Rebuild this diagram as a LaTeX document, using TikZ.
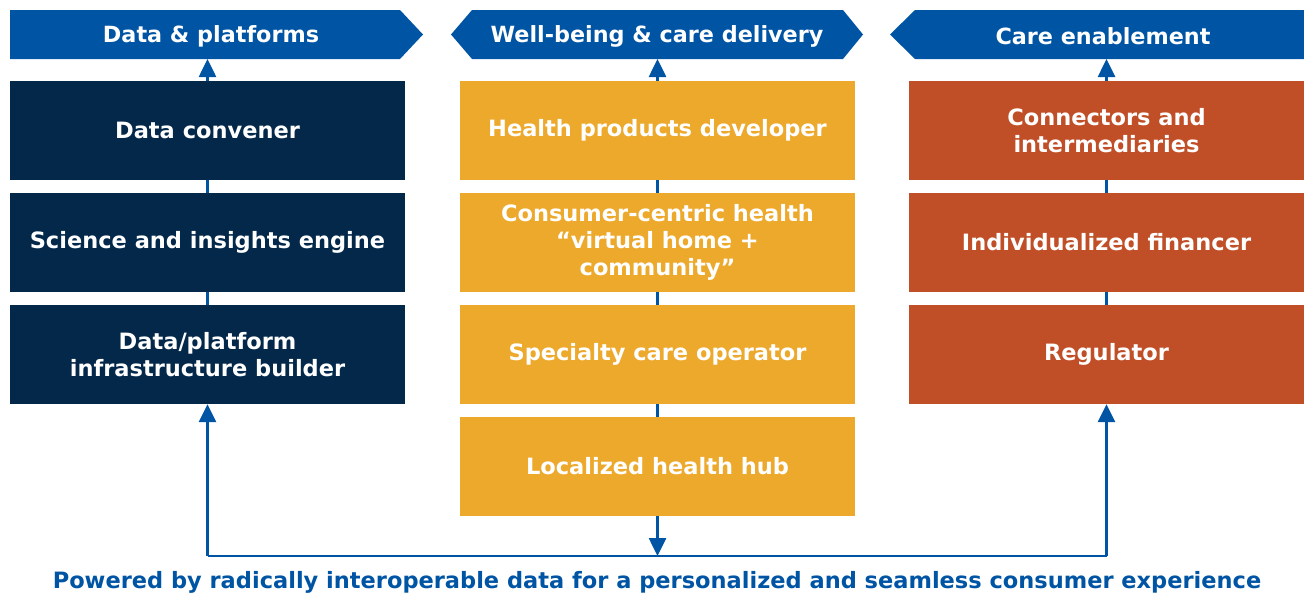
\documentclass[tikz,border=0pt]{standalone}
\usepackage{fontspec}
\setmainfont{DejaVu Sans}
\usetikzlibrary{arrows.meta,backgrounds}
\definecolor{bannerblue}{RGB}{0,84,164}
\definecolor{navy}{RGB}{3,40,74}
\definecolor{gold}{RGB}{237,169,44}
\definecolor{rust}{RGB}{192,79,40}
\tikzset{
  boxbase/.style={minimum width=395pt, minimum height=99pt, inner sep=0pt, align=center,
    text=white, font=\fontsize{22.5}{27}\selectfont\bfseries},
  navybox/.style={boxbase, fill=navy},
  goldbox/.style={boxbase, fill=gold},
  rustbox/.style={boxbase, fill=rust},
  bannertext/.style={text=white, font=\fontsize{22.3}{26}\selectfont\bfseries, inner sep=0pt},
  bannershape/.style={fill=bannerblue},
  conn/.style={draw=bannerblue, line width=2.6pt},
  tip/.style={-{Triangle[length=18pt,width=17pt]}},
}
\begin{document}
\begin{tikzpicture}[x=1pt,y=-1pt]
\useasboundingbox (0,0) rectangle (1304,597);
% banners
\fill[bannershape] (10,10) -- (400,10) -- (423,34.5) -- (400,59) -- (10,59) -- cycle;
\fill[bannershape] (472,10) -- (843,10) -- (863,34.5) -- (843,59) -- (472,59) -- (451,34.5) -- cycle;
\fill[bannershape] (915,10) -- (1304,10) -- (1304,59) -- (915,59) -- (890,34.5) -- cycle;
\node[bannertext] (ban1) at (211,36) {Data \& platforms};
\node[bannertext] (ban2) at (657,36) {Well-being \& care delivery};
\node[bannertext] (ban3) at (1103,36) {Care enablement};
\coordinate (ban1b) at (207.5,59);
\coordinate (ban2b) at (657.5,59);
\coordinate (ban3b) at (1106.5,59);
% boxes
\node[navybox] (a1) at (207.5,130.5) {Data convener};
\node[navybox] (a2) at (207.5,242.5) {Science and insights engine};
\node[navybox] (a3) at (207.5,354.5) {Data/platform\\infrastructure builder};
\node[goldbox] (b1) at (657.5,130.5) {Health products developer};
\node[goldbox] (b2) at (657.5,242.5) {Consumer-centric health\\\textquotedblleft virtual home +\\community\textquotedblright};
\node[goldbox] (b3) at (657.5,354.5) {Specialty care operator};
\node[goldbox] (b4) at (657.5,466.5) {Localized health hub};
\node[rustbox] (c1) at (1106.5,130.5) {Connectors and\\intermediaries};
\node[rustbox] (c2) at (1106.5,242.5) {Individualized financer};
\node[rustbox] (c3) at (1106.5,354.5) {Regulator};
% bottom line corners
\coordinate (bl) at (207.5,556);
\coordinate (bm) at (657.5,556);
\coordinate (br) at (1106.5,556);
\begin{scope}[on background layer]
\draw[conn] (a3.center) -- (a1.center);
\draw[conn] (b4.center) -- (b1.center);
\draw[conn] (c3.center) -- (c1.center);
\end{scope}
\draw[conn,tip] (a1.north) -- (ban1b);
\draw[conn,tip] (b1.north) -- (ban2b);
\draw[conn,tip] (c1.north) -- (ban3b);
\draw[conn,tip] (bl) -- (a3.south);
\draw[conn,tip] (br) -- (c3.south);
\draw[conn,tip] (b4.south) -- (bm);
\draw[conn] (bl) -- (br);
\node[text=bannerblue, font=\fontsize{22.5}{26}\selectfont\bfseries, inner sep=0pt] (foot) at (657,582)
  {Powered by radically interoperable data for a personalized and seamless consumer experience};
\end{tikzpicture}
\end{document}
